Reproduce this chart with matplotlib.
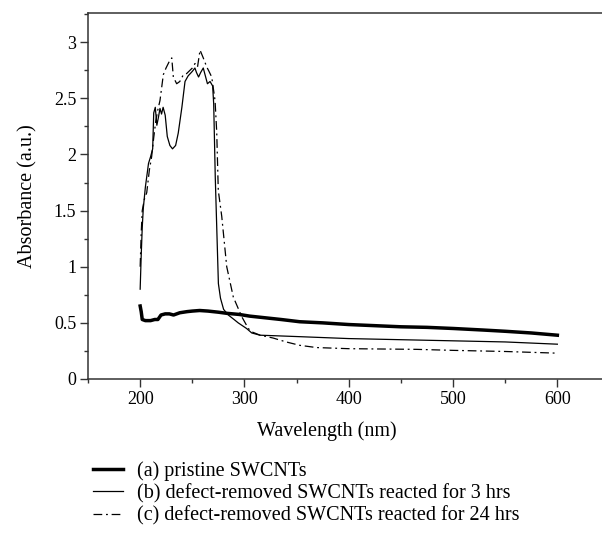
import numpy as np
import matplotlib.pyplot as plt
from matplotlib.ticker import MultipleLocator, FuncFormatter

# (a) pristine SWCNTs
wl_a = [200, 201, 202, 205, 210, 214, 217, 220, 224, 228, 232, 238, 245, 250,
        257, 265, 275, 283, 295, 305, 320, 335, 353, 375, 400, 425, 450, 475,
        500, 529, 550, 575, 600]
abs_a = [0.65, 0.60, 0.53, 0.52, 0.52, 0.53, 0.53, 0.57, 0.58, 0.58, 0.57,
         0.59, 0.60, 0.605, 0.61, 0.605, 0.595, 0.585, 0.575, 0.56, 0.545,
         0.53, 0.51, 0.50, 0.485, 0.475, 0.465, 0.46, 0.45, 0.436, 0.425,
         0.41, 0.39]

# (b) defect-removed SWCNTs, 3 hrs
wl_b = [200, 201, 202, 203, 205, 208, 210, 212, 213, 214.5, 216, 217.5, 219,
        220.5, 222, 224, 226, 228.5, 231, 234, 236.5, 240, 243, 246, 248,
        250, 252.5, 254, 256, 258, 260.5, 262.5, 264.5, 267, 269.5, 270.5,
        272, 275, 277, 280, 284.5, 290, 294, 302, 307, 315, 330, 353, 400,
        450, 500, 550, 600]
abs_b = [0.80, 1.10, 1.35, 1.52, 1.71, 1.92, 1.98, 2.05, 2.37, 2.42, 2.26,
         2.33, 2.41, 2.36, 2.42, 2.35, 2.16, 2.08, 2.05, 2.08, 2.19, 2.42,
         2.65, 2.70, 2.72, 2.74, 2.77, 2.73, 2.69, 2.73, 2.77, 2.70, 2.63,
         2.65, 2.61, 2.45, 1.80, 0.85, 0.72, 0.62, 0.57, 0.53, 0.50, 0.45,
         0.41, 0.39, 0.385, 0.377, 0.36, 0.35, 0.34, 0.33, 0.31]

# (c) defect-removed SWCNTs, 24 hrs
wl_c = [200, 201, 202, 204, 206.3, 208.8, 211, 213, 215, 217, 219, 222.2,
        224.8, 228, 230.3, 231.8, 235, 238, 241.4, 244.5, 247.8, 250,
        252.6, 255, 257.4, 260.5, 263.8, 266, 268.6, 271.8, 273.4, 274.9,
        278.2, 283, 289.3, 297.4, 303.7, 307, 315, 327.4, 340, 353, 369,
        400, 465, 500, 550, 600]
abs_c = [1.00, 1.30, 1.50, 1.60, 1.66, 1.86, 1.98, 2.15, 2.30, 2.40, 2.48,
         2.71, 2.77, 2.83, 2.86, 2.69, 2.63, 2.65, 2.71, 2.72, 2.75, 2.77,
         2.81, 2.78, 2.93, 2.86, 2.78, 2.74, 2.69, 2.48, 2.20, 1.68, 1.45,
         1.00, 0.73, 0.555, 0.45, 0.42, 0.39, 0.365, 0.33, 0.30, 0.28, 0.27,
         0.264, 0.255, 0.245, 0.23]

labels = ['(a) pristine SWCNTs',
          '(b) defect-removed SWCNTs reacted for 3 hrs',
          '(c) defect-removed SWCNTs reacted for 24 hrs']

plt.rcParams['font.family'] = ['Liberation Serif', 'DejaVu Serif']

fig = plt.figure(figsize=(6.02, 5.35), dpi=100)
ax = fig.add_axes([0.1462, 0.2916, 0.8538, 0.6841])

ax.plot(wl_a, abs_a, color='black', linewidth=2.5, label=labels[0])
ax.plot(wl_b, abs_b, color='black', linewidth=0.9, label=labels[1])
ax.plot(wl_c, abs_c, color='black', linewidth=0.9,
        linestyle=(0, (7, 3, 1.5, 3)), label=labels[2])

ax.set_xlim(150, 642.8)
ax.set_ylim(0, 3.26)

ax.xaxis.set_major_locator(MultipleLocator(100))
ax.xaxis.set_minor_locator(MultipleLocator(50))
ax.yaxis.set_major_locator(MultipleLocator(0.5))
ax.yaxis.set_minor_locator(MultipleLocator(0.25))
ax.yaxis.set_major_formatter(FuncFormatter(lambda v, p: f'{v:g}'))

ax.spines['right'].set_visible(False)
for s in ['left', 'top', 'bottom']:
    ax.spines[s].set_linewidth(1.1)
    ax.spines[s].set_color('#333333')

ax.tick_params(which='major', direction='out', length=5.5, width=1,
               labelsize=13, color='#333333', pad=3)
ax.tick_params(which='minor', direction='out', length=3, width=1,
               color='#333333')

ax.set_xlabel('Wavelength (nm)', fontsize=14.5)
ax.xaxis.set_label_coords(0.465, -0.115)
ax.set_ylabel('Absorbance (a.u.)', fontsize=14.5)
ax.yaxis.set_label_coords(-0.098, 0.5)

fig.legend(loc='upper left', bbox_to_anchor=(0.154, 0.138), frameon=False,
           handlelength=1.5, handletextpad=0.7, borderpad=0, borderaxespad=0,
           fontsize=14.5, labelspacing=0.15)

fig.savefig('out.png', dpi=100)
